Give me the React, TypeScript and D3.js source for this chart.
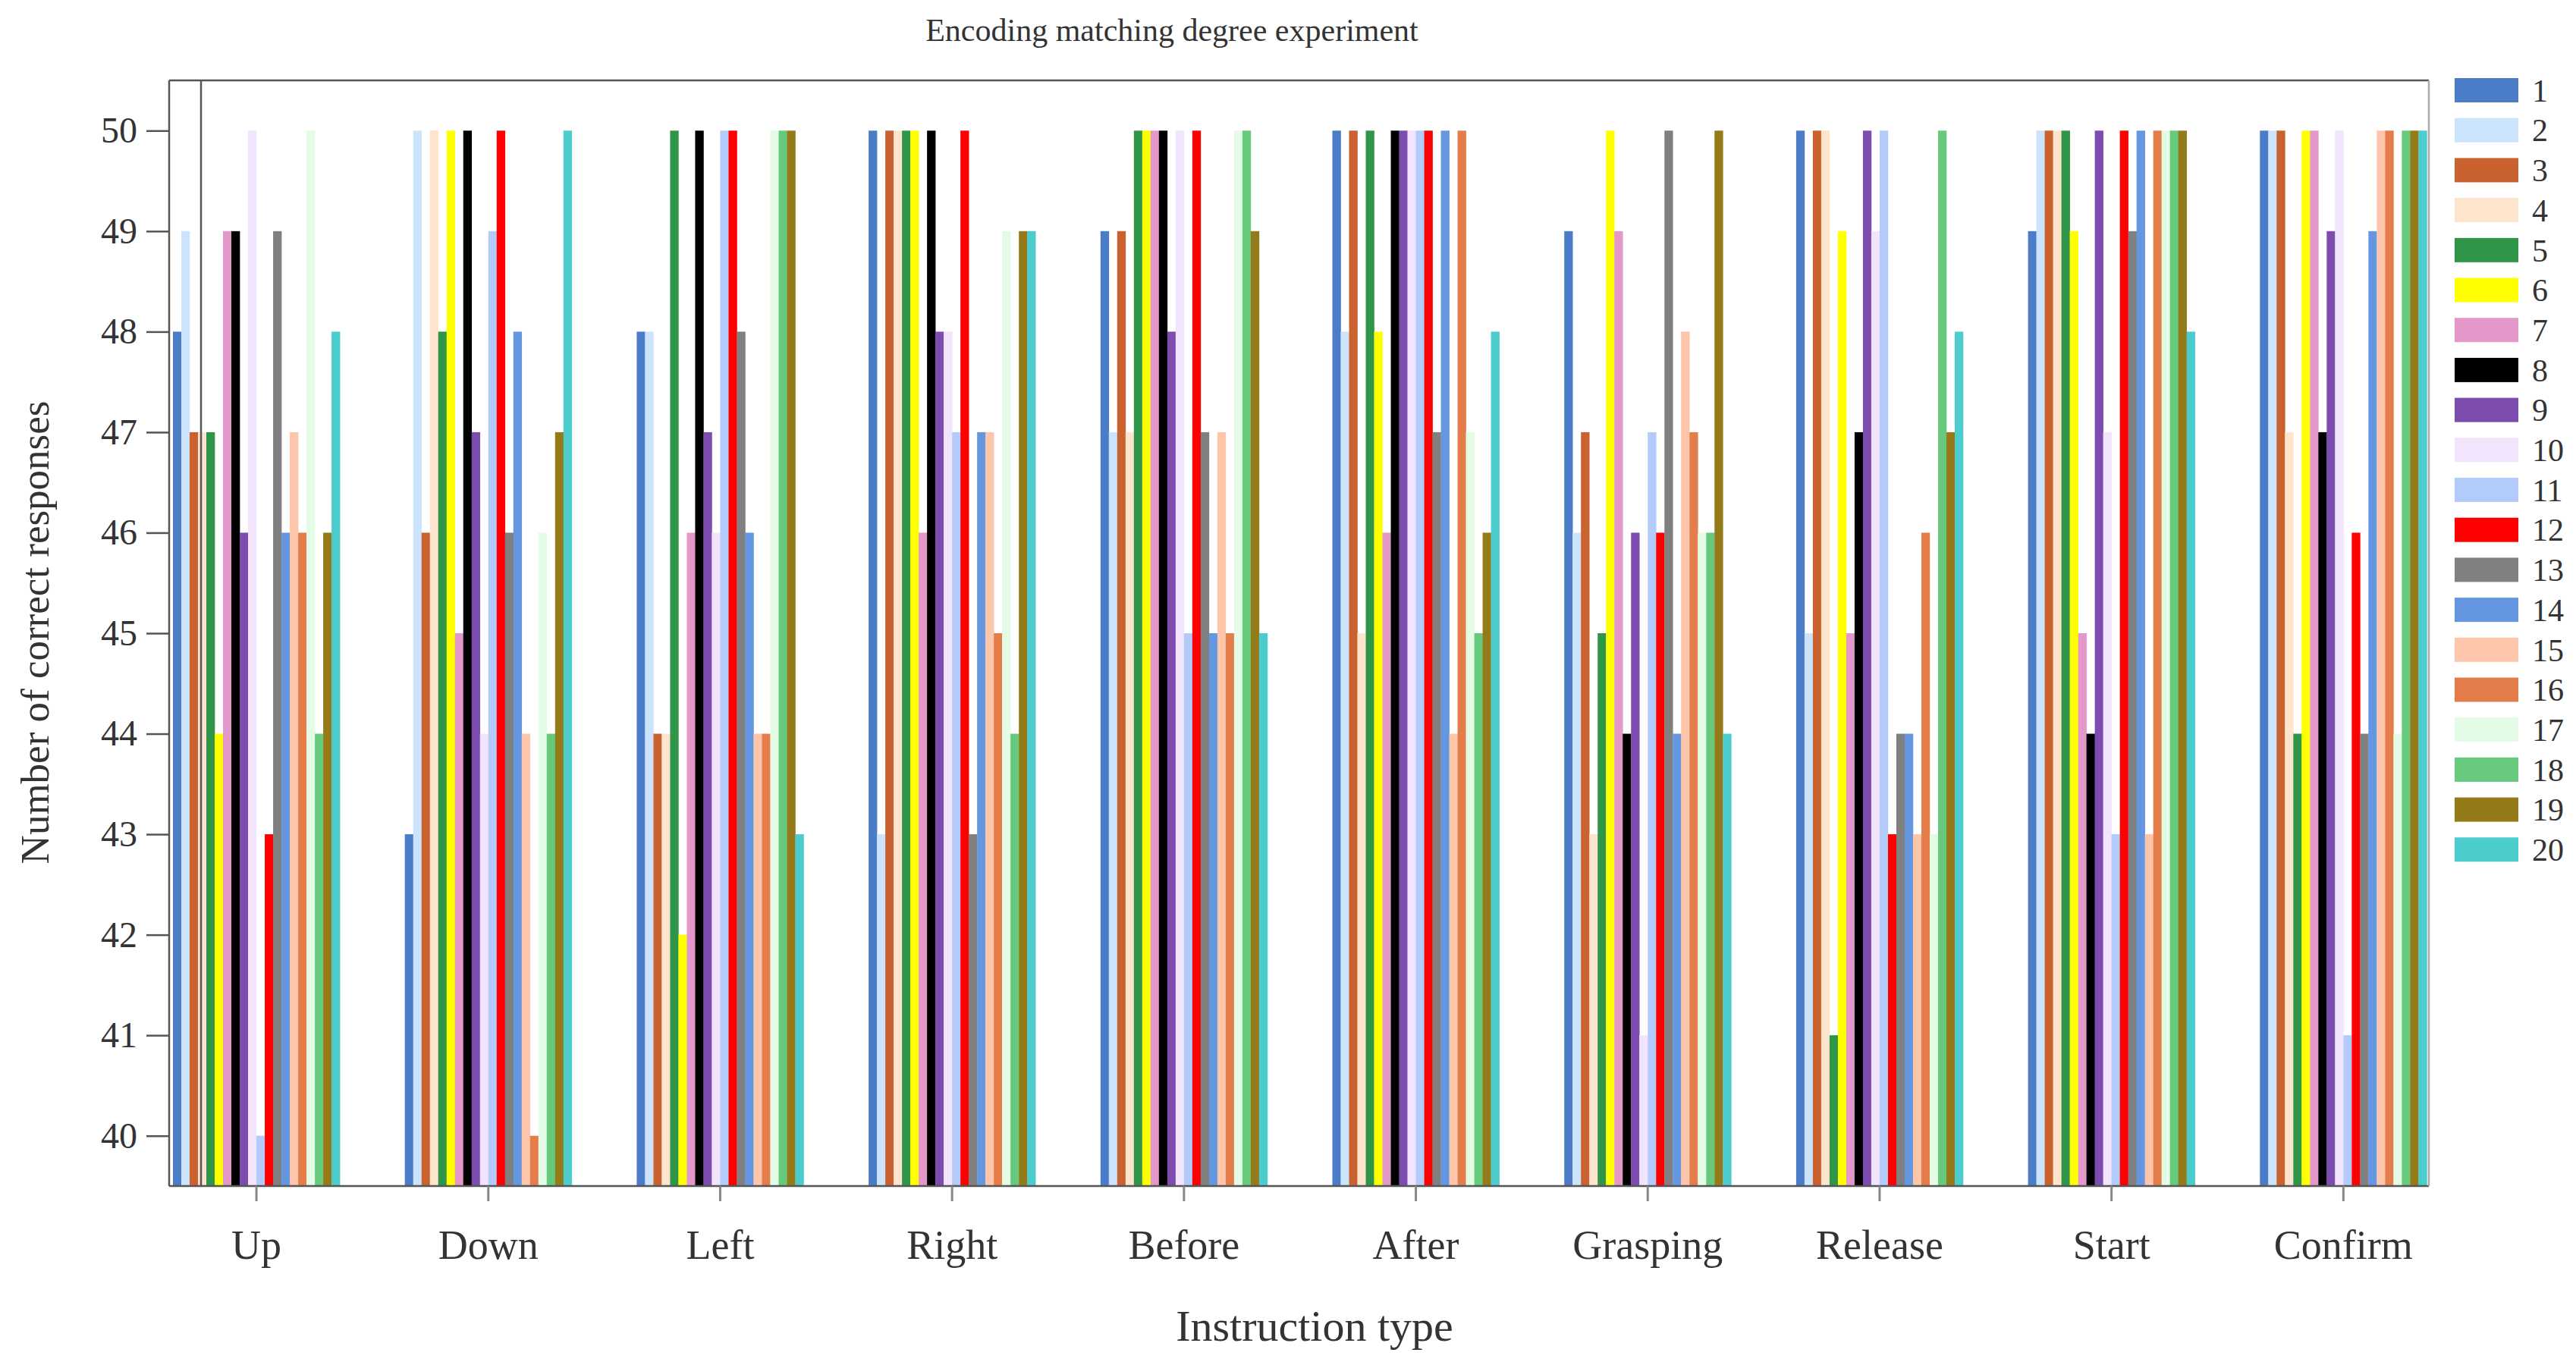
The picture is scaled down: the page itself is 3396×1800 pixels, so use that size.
import * as d3 from 'd3';
import React, { useEffect } from 'react';

// Correct responses per instruction type, one value per participant (1..20)
const categories = ['Up', 'Down', 'Left', 'Right', 'Before', 'After', 'Grasping', 'Release', 'Start', 'Confirm'];
const participants = ['1', '2', '3', '4', '5', '6', '7', '8', '9', '10', '11', '12', '13', '14', '15', '16', '17', '18', '19', '20'];

const up = [48, 49, 47, 47, 47, 44, 49, 49, 46, 50, 40, 43, 49, 46, 47, 46, 50, 44, 46, 48];
const down = [43, 50, 46, 50, 48, 50, 45, 50, 47, 44, 49, 50, 46, 48, 44, 40, 46, 44, 47, 50];
const left = [48, 48, 44, 44, 50, 42, 46, 50, 47, 46, 50, 50, 48, 46, 44, 44, 50, 50, 50, 43];
const right = [50, 43, 50, 50, 50, 50, 46, 50, 48, 48, 47, 50, 43, 47, 47, 45, 49, 44, 49, 49];
const before = [49, 47, 49, 47, 50, 50, 50, 50, 48, 50, 45, 50, 47, 45, 47, 45, 50, 50, 49, 45];
const after = [50, 48, 50, 45, 50, 48, 46, 50, 50, 50, 50, 50, 47, 50, 44, 50, 47, 45, 46, 48];
const grasping = [49, 46, 47, 43, 45, 50, 49, 44, 46, 41, 47, 46, 50, 44, 48, 47, 46, 46, 50, 44];
const release = [50, 45, 50, 50, 41, 49, 45, 47, 50, 49, 50, 43, 44, 44, 43, 46, 43, 50, 47, 48];
const start = [49, 50, 50, 50, 50, 49, 45, 44, 50, 47, 43, 50, 49, 50, 43, 50, 50, 50, 50, 48];
const confirm = [50, 50, 50, 47, 44, 50, 50, 47, 49, 50, 41, 46, 44, 49, 50, 50, 44, 50, 50, 50];

const yTicks = [40, 41, 42, 43, 44, 45, 46, 47, 48, 49, 50];

const colors = [
  '#4a7cc8', '#cce4fb', '#c9622f', '#fde4cc', '#2f9549',
  '#ffff00', '#e497c9', '#000000', '#7c4caf', '#f1e4fc',
  '#b2cbfb', '#ff0000', '#808080', '#6497e0', '#fdc5aa',
  '#e47d4a', '#e4fbe5', '#66c97c', '#947a18', '#4ccccc',
];

export default function App() {
  const ref = React.useRef<HTMLDivElement>(null);

  useEffect(() => {
    if (!ref.current) return;
    document.body.style.margin = '0';
    ref.current.innerHTML = '';

    const W = 3396;
    const H = 1800;
    const plot = { left: 223, right: 3202, top: 106, bottom: 1564 };
    const font = '"Liberation Serif", "Times New Roman", serif';
    const ink = '#333';

    const table = [up, down, left, right, before, after, grasping, release, start, confirm];
    const rows = categories.map((c, i) => ({ category: c, values: table[i] }));

    const svg = d3
      .select(ref.current)
      .append('svg')
      .attr('width', W)
      .attr('height', H)
      .style('display', 'block')
      .style('background', '#fff');

    const x0 = d3
      .scaleBand()
      .domain(categories)
      .range([185.2, 3242.2])
      .paddingInner(0.28)
      .paddingOuter(0.14);
    const x1 = d3.scaleBand().domain(participants).range([0, x0.bandwidth()]);
    const y = d3.scaleLinear().domain([39.5, 50.5]).range([plot.bottom, plot.top]);
    const color = d3.scaleOrdinal<string, string>().domain(participants).range(colors);

    // Bars
    const groups = svg
      .append('g')
      .selectAll('g')
      .data(rows)
      .enter()
      .append('g')
      .attr('transform', d => `translate(${x0(d.category)},0)`);

    groups
      .selectAll('rect')
      .data(d => d.values.map((v, i) => ({ key: participants[i], value: v })))
      .enter()
      .append('rect')
      .attr('x', d => x1(d.key) as number)
      .attr('width', x1.bandwidth() + 0.3)
      .attr('y', d => y(d.value))
      .attr('height', d => plot.bottom - y(d.value))
      .attr('fill', d => color(d.key));

    // Frame
    const frame = svg.append('g').attr('stroke', '#555').attr('stroke-width', 2.5).attr('fill', 'none');
    frame.append('line').attr('x1', plot.left).attr('x2', plot.right).attr('y1', plot.top).attr('y2', plot.top);
    frame.append('line').attr('x1', plot.left).attr('x2', plot.left).attr('y1', plot.top).attr('y2', plot.bottom);
    frame.append('line').attr('x1', 265).attr('x2', 265).attr('y1', plot.top).attr('y2', plot.bottom);
    frame.append('line').attr('x1', plot.left).attr('x2', plot.right).attr('y1', plot.bottom).attr('y2', plot.bottom);
    frame
      .append('line')
      .attr('x1', plot.right)
      .attr('x2', plot.right)
      .attr('y1', plot.top)
      .attr('y2', plot.bottom)
      .attr('stroke', '#aaa');

    // Y axis
    const yAxis = svg
      .append('g')
      .attr('transform', `translate(${plot.left},0)`)
      .call(d3.axisLeft(y).tickValues(yTicks).tickSize(30).tickPadding(12).tickFormat(d3.format('d')));
    yAxis.select('.domain').remove();
    yAxis.selectAll('line').attr('stroke', '#555').attr('stroke-width', 2.5);
    yAxis.selectAll('text').attr('font-family', font).attr('font-size', 48).attr('fill', ink);

    // X axis
    const xAxis = svg
      .append('g')
      .attr('transform', `translate(0,${plot.bottom})`)
      .call(d3.axisBottom(x0).tickSize(20).tickPadding(38));
    xAxis.select('.domain').remove();
    xAxis.selectAll('line').attr('stroke', '#888').attr('stroke-width', 3);
    xAxis.selectAll('text').attr('font-family', font).attr('font-size', 54).attr('fill', ink);

    // Title and axis labels
    svg
      .append('text')
      .attr('x', 1545)
      .attr('y', 54)
      .attr('text-anchor', 'middle')
      .attr('font-family', font)
      .attr('font-size', 42)
      .attr('fill', ink)
      .text('Encoding matching degree experiment');
    svg
      .append('text')
      .attr('x', 1733)
      .attr('y', 1768)
      .attr('text-anchor', 'middle')
      .attr('font-family', font)
      .attr('font-size', 58)
      .attr('fill', ink)
      .text('Instruction type');
    svg
      .append('text')
      .attr('transform', 'translate(64,834) rotate(-90)')
      .attr('text-anchor', 'middle')
      .attr('font-family', font)
      .attr('font-size', 53)
      .attr('fill', ink)
      .text('Number of correct responses');

    // Legend
    const legend = svg
      .selectAll('.legend')
      .data(participants)
      .enter()
      .append('g')
      .attr('class', 'legend')
      .attr('transform', (d, i) => `translate(3236,${119 + i * 52.7})`);
    legend
      .append('rect')
      .attr('y', -16)
      .attr('width', 84)
      .attr('height', 32)
      .attr('fill', d => color(d));
    legend
      .append('text')
      .attr('x', 102)
      .attr('dy', '.35em')
      .attr('font-family', font)
      .attr('font-size', 42)
      .attr('fill', ink)
      .text(d => d);
  }, []);

  return <div ref={ref}></div>;
}
